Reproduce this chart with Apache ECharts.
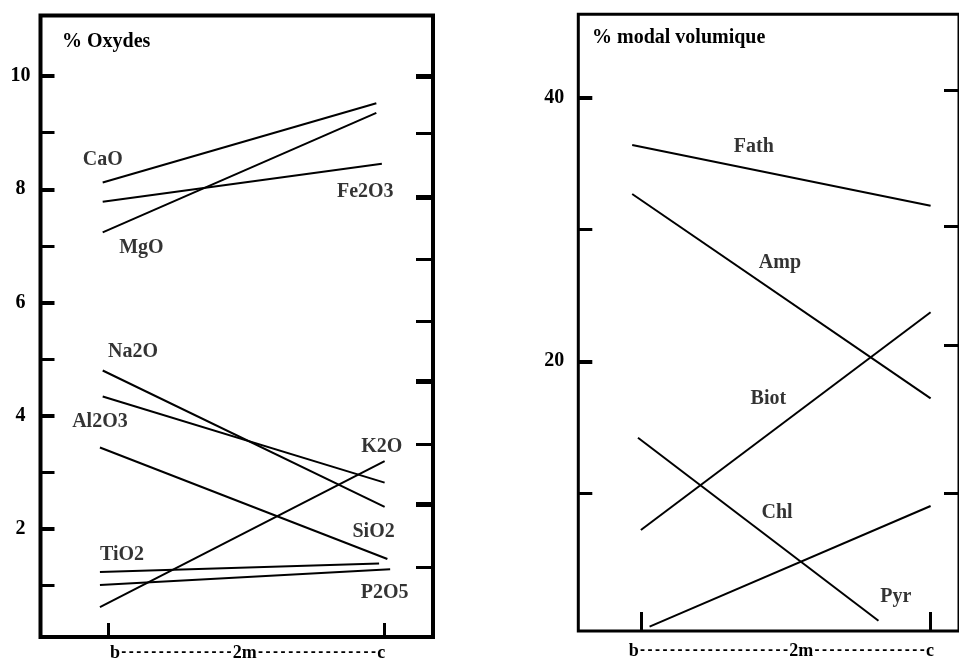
<!DOCTYPE html>
<html>
<head>
<meta charset="utf-8">
<script src="https://cdn.jsdelivr.net/npm/echarts@6/dist/echarts.min.js"></script>
<style>html,body{margin:0;padding:0;background:#fff;}#c{width:959px;height:662px;}</style>
</head>
<body>
<div id="c"></div>
<script>
// ---- Left panel: % Oxydes ----
const oxideNames  = ['CaO', 'MgO', 'Fe2O3', 'Na2O', 'Al2O3', 'SiO2', 'K2O', 'TiO2', 'P2O5'];
const oxideStartX = [-0.02, -0.02, -0.02, -0.02, -0.02, -0.03, -0.03, -0.03, -0.03];
const oxideEndX   = [0.97, 0.97, 0.99, 1.00, 1.00, 1.01, 1.00, 0.98, 1.02];
const oxideStart  = [8.12, 7.24, 7.78, 4.80, 4.34, 3.44, 0.62, 1.24, 1.01];
const oxideEnd    = [9.52, 9.35, 8.45, 2.39, 2.82, 1.47, 3.20, 1.39, 1.29];
const oxideLabelX = [-0.02, 0.12, 0.93, 0.09, -0.03, 0.96, 0.99, 0.05, 1.00];
const oxideLabelY = [8.52, 6.96, 7.95, 5.13, 3.89, 1.95, 3.45, 1.54, 0.87];
const oxideTicksMajor = [2, 4, 6, 8, 10];
const oxideTicksMinor = [1, 3, 5, 7, 9];
const oxideRightThick = [10.0, 7.86, 4.61, 2.44];
const oxideRightThin  = [8.99, 6.77, 5.67, 3.50, 1.33];
const oxideXParts = ['b', '2m', 'c'];
const oxideXDashes = [15, 16];

// ---- Right panel: % modal volumique ----
const modalNames  = ['Fath', 'Amp', 'Biot', 'Chl', 'Pyr'];
const modalStartX = [-0.03, -0.03, 0.00, -0.01, 0.03];
const modalEndX   = [1.00, 1.00, 1.00, 0.82, 1.00];
const modalStart  = [36.42, 32.70, 7.20, 14.20, -0.14];
const modalEnd    = [31.81, 17.19, 23.72, 0.31, 9.02];
const modalLabelX = [0.39, 0.48, 0.44, 0.47, 0.88];
const modalLabelY = [36.29, 27.46, 17.14, 8.51, 2.13];
const modalTicksMajor = [20, 40];
const modalTicksMinor = [10, 30];
const modalRightTicks = [40.59, 30.27, 21.23, 9.98];
const modalXParts = ['b', '2m', 'c'];
const modalXDashes = [20, 15];

const SERIF = 'Liberation Serif';
const FS = 20;

function xLabelText(parts, dashes) {
  return '{s|' + parts[0] + '}{d|' + '-'.repeat(dashes[0]) + '}{s|' + parts[1] + '}{d|' +
         '-'.repeat(dashes[1]) + '}{s|' + parts[2] + '}';
}
const xRich = {
  s: { fontFamily: SERIF, fontWeight: 'bold', fontSize: 18, color: '#000' },
  d: { fontFamily: 'DejaVu Sans Mono', fontWeight: 'bold', fontSize: 12.5, color: '#000' }
};

function tickAxis(grid, pos, min, max, vals, len, w, labels, margin) {
  return {
    type: 'value', gridIndex: grid, position: pos, min: min, max: max,
    axisLine: { show: false, onZero: false }, splitLine: { show: false },
    axisTick: { show: true, inside: true, length: len, customValues: vals,
                lineStyle: { color: '#000', width: w } },
    axisLabel: labels ? {
      show: true, customValues: vals, align: 'center', margin: margin,
      fontFamily: SERIF, fontWeight: 'bold', fontSize: FS, color: '#000',
      formatter: v => String(Math.round(v))
    } : { show: false }
  };
}

const series = [];
oxideNames.forEach((n, i) => {
  series.push({
    type: 'line', name: n, xAxisIndex: 0, yAxisIndex: 0, symbol: 'none', silent: true,
    data: [[oxideStartX[i], oxideStart[i]], [oxideEndX[i], oxideEnd[i]]],
    lineStyle: { color: '#000', width: 2 }
  });
});
modalNames.forEach((n, i) => {
  series.push({
    type: 'line', name: n, xAxisIndex: 1, yAxisIndex: 4, symbol: 'none', silent: true,
    data: [[modalStartX[i], modalStart[i]], [modalEndX[i], modalEnd[i]]],
    lineStyle: { color: '#000', width: 2 }
  });
});
const lblStyle = { show: true, position: 'inside', formatter: '{b}', fontFamily: SERIF,
                   fontWeight: 'bold', fontSize: FS, color: '#000' };
series.push({
  type: 'scatter', xAxisIndex: 0, yAxisIndex: 0, symbolSize: 0, silent: true,
  data: oxideNames.map((n, i) => ({ name: n, value: [oxideLabelX[i], oxideLabelY[i]] })),
  label: lblStyle
});
series.push({
  type: 'scatter', xAxisIndex: 1, yAxisIndex: 4, symbolSize: 0, silent: true,
  data: modalNames.map((n, i) => ({ name: n, value: [modalLabelX[i], modalLabelY[i]] })),
  label: lblStyle
});

const option = {
  animation: false,
  backgroundColor: '#fff',
  title: [
    { text: '% Oxydes', left: 62, top: 32, padding: 0,
      textStyle: { fontFamily: SERIF, fontWeight: 'bold', fontSize: FS, color: '#000' } },
    { text: '% modal volumique', left: 592, top: 28, padding: 0,
      textStyle: { fontFamily: SERIF, fontWeight: 'bold', fontSize: FS, color: '#000' } }
  ],
  grid: [
    { left: 40.5, top: 15.5, width: 392.5, height: 621.5, show: true,
      borderColor: '#000', borderWidth: 4, backgroundColor: 'transparent' },
    { left: 578.3, top: 14.3, width: 387.7, height: 616.7, show: true,
      borderColor: '#000', borderWidth: 3, backgroundColor: 'transparent' }
  ],
  xAxis: [
    { type: 'value', gridIndex: 0, min: -0.245, max: 1.175, position: 'bottom',
      axisLine: { show: false, onZero: false }, splitLine: { show: false },
      axisTick: { show: true, inside: true, length: 14, customValues: [0, 1],
                  lineStyle: { color: '#000', width: 3 } },
      axisLabel: { show: true, customValues: [0.504], margin: 7, rich: xRich,
                   formatter: () => xLabelText(oxideXParts, oxideXDashes) } },
    { type: 'value', gridIndex: 1, min: -0.216, max: 1.098, position: 'bottom',
      axisLine: { show: false, onZero: false }, splitLine: { show: false },
      axisTick: { show: true, inside: true, length: 19, customValues: [0, 1],
                  lineStyle: { color: '#000', width: 3 } },
      axisLabel: { show: true, customValues: [0.485], margin: 11, rich: xRich,
                   formatter: () => xLabelText(modalXParts, modalXDashes) } }
  ],
  yAxis: [
    tickAxis(0, 'left', 0.093, 11.07, oxideTicksMajor, 14, 4, true, 20),
    tickAxis(0, 'left', 0.093, 11.07, oxideTicksMinor, 14, 3, false),
    tickAxis(0, 'right', 0.093, 11.07, oxideRightThick, 17, 5, false),
    tickAxis(0, 'right', 0.093, 11.07, oxideRightThin, 17, 3, false),
    tickAxis(1, 'left', -0.47, 46.34, modalTicksMajor, 14, 4, true, 24),
    tickAxis(1, 'left', -0.47, 46.34, modalTicksMinor, 14, 3, false),
    tickAxis(1, 'right', -0.47, 46.34, modalRightTicks, 15, 3, false)
  ],
  series: series
};
const chart = echarts.init(document.getElementById('c'), null, { renderer: 'canvas' });
chart.setOption(option);
</script>
</body>
</html>
